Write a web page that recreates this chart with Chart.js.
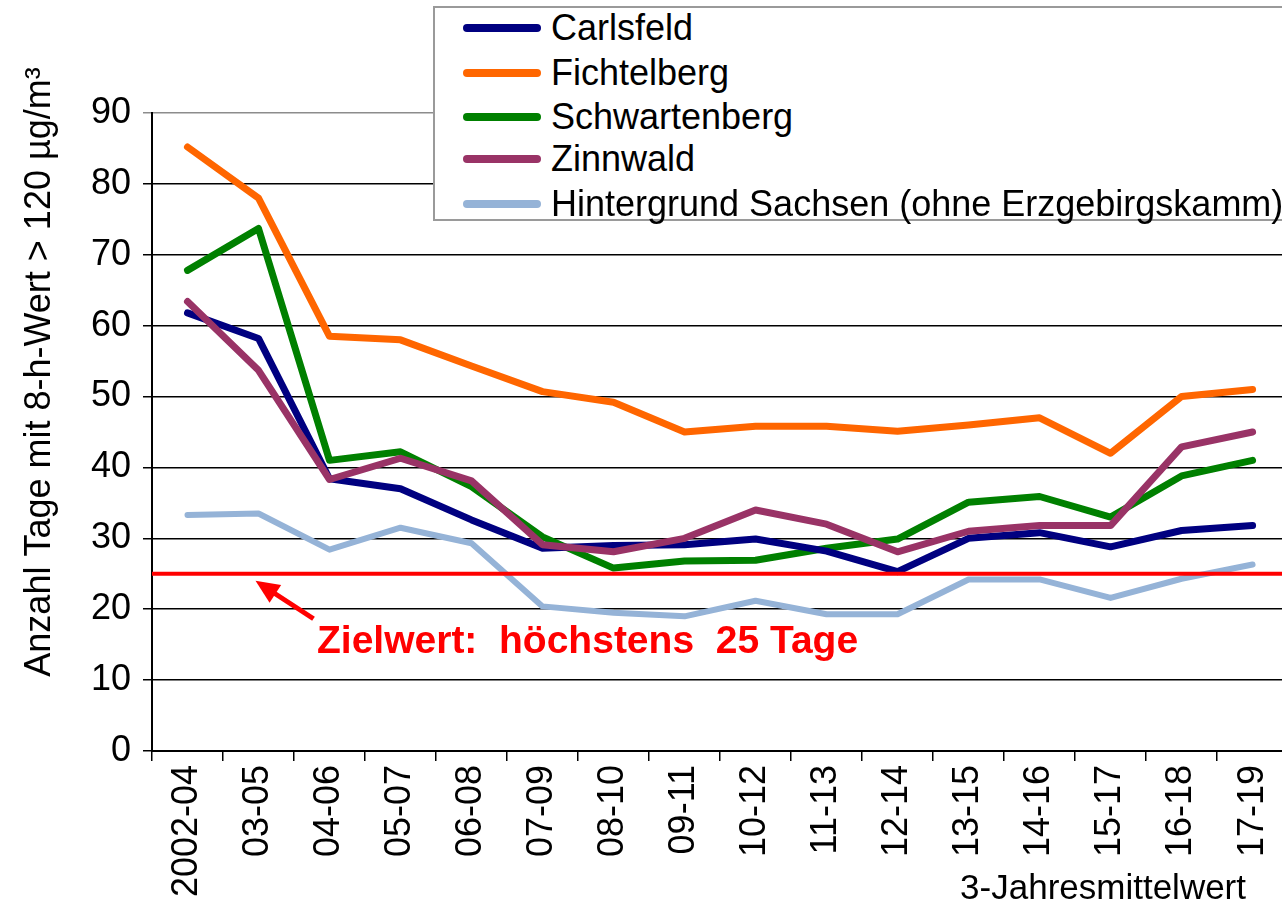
<!DOCTYPE html>
<html lang="de">
  <head>
    <meta charset="UTF-8" />
    <title>Ozon – Tage mit 8-h-Wert über 120 µg/m³</title>
    <script src="https://cdn.jsdelivr.net/npm/chart.js"></script>
    <style>
      html, body {
        margin: 0;
        padding: 0;
        background: #ffffff;
        overflow: hidden;
      }
      .wrap {
        position: relative;
        width: 1300px;
        height: 914px;
      }
      #legend {
        position: absolute;
        left: 433px;
        top: 6px;
        width: 870px;
        height: 215px;
        box-sizing: border-box;
        border: 2px solid #9a9a9a;
        background: #ffffff;
        font-family: "Liberation Sans", Arial, sans-serif;
        font-size: 36px;
        color: #000;
      }
      #legend .row {
        position: absolute;
        left: 28px;
        height: 40px;
        display: flex;
        align-items: center;
        white-space: nowrap;
      }
      #legend .swatch {
        width: 78px;
        height: 8px;
        border-radius: 4px;
        margin-right: 10px;
      }
    </style>
  </head>
  <body>
    <div class="wrap">
      <canvas id="myChart" width="1300" height="914"></canvas>
      <div id="legend"></div>
    </div>
    <script>
      const labels = [
        "2002-04", "03-05", "04-06", "05-07", "06-08", "07-09", "08-10", "09-11",
        "10-12", "11-13", "12-14", "13-15", "14-16", "15-17", "16-18", "17-19"
      ];
      const carlsfeld = [61.8, 58.2, 38.4, 37.0, 32.6, 28.6, 29.0, 29.1, 29.9, 28.2, 25.3, 30.0, 30.8, 28.8, 31.1, 31.8];
      const fichtelberg = [85.2, 78.0, 58.5, 58.0, 54.3, 50.7, 49.2, 45.0, 45.8, 45.8, 45.1, 46.0, 47.0, 42.0, 50.0, 51.0];
      const schwartenberg = [67.8, 73.7, 41.0, 42.2, 37.3, 30.2, 25.8, 26.8, 26.9, 28.6, 29.9, 35.1, 35.9, 33.0, 38.8, 41.0];
      const zinnwald = [63.4, 53.7, 38.3, 41.3, 38.1, 29.1, 28.1, 30.0, 34.0, 32.0, 28.1, 31.0, 31.8, 31.8, 42.9, 45.0];
      const hintergrund = [33.3, 33.5, 28.4, 31.5, 29.3, 20.4, 19.5, 19.0, 21.2, 19.3, 19.3, 24.2, 24.2, 21.6, 24.3, 26.3];
      const zielwert = 25;
      const yTicks = [0, 10, 20, 30, 40, 50, 60, 70, 80, 90];

      const yTitle = "Anzahl Tage mit 8-h-Wert > 120 µg/m³";
      const xTitle = "3-Jahresmittelwert";
      const zielText = "Zielwert:  höchstens  25 Tage";

      const font = "'Liberation Sans', Arial, Helvetica, sans-serif";
      Chart.defaults.font.family = font;
      Chart.defaults.color = "#000";

      function line(label, data, color, width, order) {
        return {
          label,
          data,
          borderColor: color,
          backgroundColor: color,
          borderWidth: width,
          pointRadius: 0,
          tension: 0,
          borderJoinStyle: "round",
          borderCapStyle: "round",
          order
        };
      }

      // Zielwert line, arrow and the extra texts
      const extras = {
        id: "extras",
        afterDatasetsDraw(chart) {
          const { ctx, chartArea } = chart;
          const x = chart.scales.x;
          const y = chart.scales.y;
          const yz = y.getPixelForValue(zielwert);
          ctx.save();
          ctx.strokeStyle = "#ff0000";
          ctx.lineWidth = 4;
          ctx.beginPath();
          ctx.moveTo(chartArea.left, yz);
          ctx.lineTo(chartArea.right, yz);
          ctx.stroke();

          // arrow pointing to the line
          const tipX = x.getPixelForValue(1) - 3;
          const tipY = yz + 7;
          const tailX = tipX + 58;
          const tailY = tipY + 38;
          ctx.lineWidth = 5;
          ctx.beginPath();
          ctx.moveTo(tailX, tailY);
          ctx.lineTo(tipX + 12, tipY + 8);
          ctx.stroke();
          const ang = Math.atan2(tipY - tailY, tipX - tailX);
          ctx.fillStyle = "#ff0000";
          ctx.beginPath();
          ctx.moveTo(tipX, tipY);
          ctx.lineTo(tipX - 26 * Math.cos(ang - 0.42), tipY - 26 * Math.sin(ang - 0.42));
          ctx.lineTo(tipX - 26 * Math.cos(ang + 0.42), tipY - 26 * Math.sin(ang + 0.42));
          ctx.closePath();
          ctx.fill();

          ctx.font = "bold 39px " + font;
          ctx.textBaseline = "middle";
          ctx.textAlign = "left";
          ctx.fillText(zielText, 317, y.getPixelForValue(15.4));
          ctx.restore();
        },
        afterDraw(chart) {
          const { ctx } = chart;
          ctx.save();
          ctx.fillStyle = "#000";
          ctx.font = "35px " + font;
          ctx.textAlign = "right";
          ctx.textBaseline = "middle";
          ctx.fillText(xTitle, 1246, 889);

          ctx.translate(40, 372);
          ctx.rotate(-Math.PI / 2);
          ctx.textAlign = "center";
          ctx.font = "36px " + font;
          ctx.fillText(yTitle, 0, 0);
          ctx.restore();
        }
      };

      const config = {
        type: "line",
        data: {
          labels,
          datasets: [
            line("Carlsfeld", carlsfeld, "#000080", 7, 2),
            line("Fichtelberg", fichtelberg, "#ff6600", 7, 4),
            line("Schwartenberg", schwartenberg, "#008000", 7, 3),
            line("Zinnwald", zinnwald, "#993366", 7, 1),
            line("Hintergrund Sachsen (ohne Erzgebirgskamm)", hintergrund, "#95b3d7", 6, 5)
          ]
        },
        options: {
          responsive: false,
          animation: false,
          layout: { padding: { top: 113, right: 7, left: 0, bottom: 0 } },
          plugins: {
            legend: { display: false },
            tooltip: { enabled: false }
          },
          scales: {
            x: {
              offset: true,
              afterFit: (s) => { s.height = 163; },
              border: { color: "#000", width: 2 },
              grid: {
                display: true,
                offset: true,
                drawOnChartArea: false,
                drawTicks: true,
                tickLength: 10,
                color: "#000",
                lineWidth: 1.5
              },
              ticks: {
                autoSkip: false,
                maxRotation: 90,
                minRotation: 90,
                padding: 4,
                font: { size: 36 },
                color: "#000"
              }
            },
            y: {
              min: 0,
              max: 90,
              afterFit: (s) => { s.width = 152; },
              afterBuildTicks: (s) => { s.ticks = yTicks.map((v) => ({ value: v })); },
              border: { color: "#000", width: 2 },
              grid: {
                color: (c) => (c.tick && c.tick.value === 90 ? "#8c8c8c" : "#000"),
                lineWidth: 1.5,
                tickLength: 9
              },
              ticks: {
                padding: 12,
                font: { size: 36 },
                color: "#000"
              }
            }
          }
        },
        plugins: [extras]
      };

      const myChart = new Chart(document.getElementById("myChart"), config);

      // legend box on top of the plot
      const legend = document.getElementById("legend");
      const rowTops = [0, 45, 89, 131, 176];
      config.data.datasets.forEach((ds, i) => {
        const row = document.createElement("div");
        row.className = "row";
        row.style.top = rowTops[i] + "px";
        const sw = document.createElement("span");
        sw.className = "swatch";
        sw.style.background = ds.borderColor;
        const txt = document.createElement("span");
        txt.textContent = ds.label;
        row.appendChild(sw);
        row.appendChild(txt);
        legend.appendChild(row);
      });
    </script>
  </body>
</html>
